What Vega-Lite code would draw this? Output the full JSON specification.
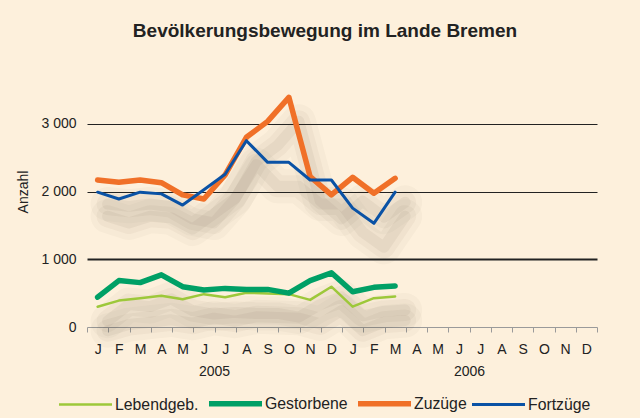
{
  "$schema": "https://vega.github.io/schema/vega-lite/v6.json",
  "width": 510,
  "height": 271,
  "autosize": {"type": "none"},
  "padding": {"left": 87, "top": 56, "right": 43, "bottom": 91},
  "background": "#FDF0DC",
  "title": {
    "text": "Bevölkerungsbewegung im Lande Bremen",
    "fontSize": 19,
    "fontWeight": "bold",
    "font": "Liberation Sans",
    "color": "#222222",
    "anchor": "middle",
    "frame": "group",
    "baseline": "alphabetic",
    "dx": -17,
    "offset": 0
  },
  "config": {
    "view": {"stroke": null},
    "font": "Liberation Sans",
    "axis": {"labelFont": "Liberation Sans", "titleFont": "Liberation Sans", "labelColor": "#222222", "titleColor": "#222222", "labelFontSize": 14, "titleFontSize": 14, "titleFontWeight": "normal"},
    "legend": {"labelFont": "Liberation Sans", "labelFontSize": 15.8, "labelColor": "#222222", "padding": 0}
  },
  "datasets": {
    "bev": [
      {"m": "2005-01", "s": "Lebendgeb.", "v": 300},
      {"m": "2005-02", "s": "Lebendgeb.", "v": 390},
      {"m": "2005-03", "s": "Lebendgeb.", "v": 425},
      {"m": "2005-04", "s": "Lebendgeb.", "v": 460},
      {"m": "2005-05", "s": "Lebendgeb.", "v": 410},
      {"m": "2005-06", "s": "Lebendgeb.", "v": 485},
      {"m": "2005-07", "s": "Lebendgeb.", "v": 440},
      {"m": "2005-08", "s": "Lebendgeb.", "v": 505},
      {"m": "2005-09", "s": "Lebendgeb.", "v": 495},
      {"m": "2005-10", "s": "Lebendgeb.", "v": 485},
      {"m": "2005-11", "s": "Lebendgeb.", "v": 400},
      {"m": "2005-12", "s": "Lebendgeb.", "v": 595},
      {"m": "2006-01", "s": "Lebendgeb.", "v": 300},
      {"m": "2006-02", "s": "Lebendgeb.", "v": 425},
      {"m": "2006-03", "s": "Lebendgeb.", "v": 450},
      {"m": "2005-01", "s": "Gestorbene", "v": 440},
      {"m": "2005-02", "s": "Gestorbene", "v": 685},
      {"m": "2005-03", "s": "Gestorbene", "v": 655},
      {"m": "2005-04", "s": "Gestorbene", "v": 770},
      {"m": "2005-05", "s": "Gestorbene", "v": 595},
      {"m": "2005-06", "s": "Gestorbene", "v": 545},
      {"m": "2005-07", "s": "Gestorbene", "v": 570},
      {"m": "2005-08", "s": "Gestorbene", "v": 555},
      {"m": "2005-09", "s": "Gestorbene", "v": 555},
      {"m": "2005-10", "s": "Gestorbene", "v": 500},
      {"m": "2005-11", "s": "Gestorbene", "v": 685},
      {"m": "2005-12", "s": "Gestorbene", "v": 800},
      {"m": "2006-01", "s": "Gestorbene", "v": 520},
      {"m": "2006-02", "s": "Gestorbene", "v": 585},
      {"m": "2006-03", "s": "Gestorbene", "v": 605},
      {"m": "2005-01", "s": "Zuzüge", "v": 2170},
      {"m": "2005-02", "s": "Zuzüge", "v": 2135},
      {"m": "2005-03", "s": "Zuzüge", "v": 2170},
      {"m": "2005-04", "s": "Zuzüge", "v": 2130},
      {"m": "2005-05", "s": "Zuzüge", "v": 1950},
      {"m": "2005-06", "s": "Zuzüge", "v": 1890},
      {"m": "2005-07", "s": "Zuzüge", "v": 2245},
      {"m": "2005-08", "s": "Zuzüge", "v": 2800},
      {"m": "2005-09", "s": "Zuzüge", "v": 3035},
      {"m": "2005-10", "s": "Zuzüge", "v": 3390},
      {"m": "2005-11", "s": "Zuzüge", "v": 2220},
      {"m": "2005-12", "s": "Zuzüge", "v": 1950},
      {"m": "2006-01", "s": "Zuzüge", "v": 2210},
      {"m": "2006-02", "s": "Zuzüge", "v": 1975},
      {"m": "2006-03", "s": "Zuzüge", "v": 2195},
      {"m": "2005-01", "s": "Fortzüge", "v": 1990},
      {"m": "2005-02", "s": "Fortzüge", "v": 1890},
      {"m": "2005-03", "s": "Fortzüge", "v": 1990},
      {"m": "2005-04", "s": "Fortzüge", "v": 1965},
      {"m": "2005-05", "s": "Fortzüge", "v": 1800},
      {"m": "2005-06", "s": "Fortzüge", "v": 2025},
      {"m": "2005-07", "s": "Fortzüge", "v": 2255},
      {"m": "2005-08", "s": "Fortzüge", "v": 2750},
      {"m": "2005-09", "s": "Fortzüge", "v": 2430},
      {"m": "2005-10", "s": "Fortzüge", "v": 2430},
      {"m": "2005-11", "s": "Fortzüge", "v": 2170},
      {"m": "2005-12", "s": "Fortzüge", "v": 2170},
      {"m": "2006-01", "s": "Fortzüge", "v": 1755},
      {"m": "2006-02", "s": "Fortzüge", "v": 1530},
      {"m": "2006-03", "s": "Fortzüge", "v": 1990}
    ],
    "years": [{"year": "2005"}, {"year": "2006"}]
  },
  "layer": [
    {
      "data": {"name": "bev"},
      "encoding": {
        "x": {
          "field": "m",
          "type": "ordinal",
          "bandPosition": 0.5,
          "scale": {
            "type": "band",
            "paddingInner": 0,
            "paddingOuter": 0,
            "domain": ["2005-01","2005-02","2005-03","2005-04","2005-05","2005-06","2005-07","2005-08","2005-09","2005-10","2005-11","2005-12","2006-01","2006-02","2006-03","2006-04","2006-05","2006-06","2006-07","2006-08","2006-09","2006-10","2006-11","2006-12"]
          },
          "axis": {
            "title": null,
            "orient": "bottom",
            "tickBand": "extent",
            "labelAngle": 0,
            "domainColor": "#9a9a9a",
            "tickColor": "#9a9a9a",
            "tickSize": 5,
            "labelPadding": 10,
            "grid": false,
            "labelExpr": "['J','F','M','A','M','J','J','A','S','O','N','D'][toNumber(substring(datum.value,5,7))-1]"
          }
        },
        "y": {
          "field": "v",
          "type": "quantitative",
          "scale": {"domain": [0, 4000], "nice": false},
          "axis": {
            "title": "Anzahl",
            "values": [0, 1000, 2000, 3000],
            "format": ",d",
            "labelExpr": "replace(datum.label, ',', ' ')",
            "domain": false,
            "ticks": false,
            "labelPadding": 11,
            "titlePadding": 10,
            "grid": true,
            "gridColor": {"condition": {"test": "datum.value === 0", "value": "transparent"}, "value": "#222222"},
            "gridWidth": {"condition": {"test": "datum.value === 1000", "value": 2.2}, "value": 1}
          }
        }
      },
      "layer": [
        {
          "mark": {"type": "line", "color": "#5a4a30", "opacity": 0.035, "strokeWidth": 34, "strokeCap": "round", "strokeJoin": "round", "xOffset": 10, "yOffset": 24},
          "encoding": {"detail": {"field": "s", "type": "nominal"}}
        },
        {
          "mark": {"type": "line", "color": "#5a4a30", "opacity": 0.045, "strokeWidth": 22, "strokeCap": "round", "strokeJoin": "round", "xOffset": 10, "yOffset": 24},
          "encoding": {"detail": {"field": "s", "type": "nominal"}}
        },
        {
          "mark": {"type": "line", "color": "#5a4a30", "opacity": 0.06, "strokeWidth": 11, "strokeCap": "round", "strokeJoin": "round", "xOffset": 10, "yOffset": 24},
          "encoding": {"detail": {"field": "s", "type": "nominal"}}
        },
        {
          "mark": {"type": "line", "strokeCap": "round", "strokeJoin": "round"},
          "encoding": {
            "color": {
              "field": "s",
              "type": "nominal",
              "scale": {"domain": ["Lebendgeb.", "Gestorbene", "Zuzüge", "Fortzüge"], "range": ["#9DC83A", "#00A066", "#F07028", "#0A52A5"]},
              "legend": {"title": null, "orient": "none", "legendX": -31, "legendY": 318, "direction": "horizontal", "columns": 4, "symbolType": "stroke", "symbolSize": 2809, "labelOffset": 0, "columnPadding": -1}
            },
            "strokeWidth": {
              "field": "s",
              "type": "nominal",
              "scale": {"type": "ordinal", "domain": ["Lebendgeb.", "Gestorbene", "Zuzüge", "Fortzüge"], "range": [2.5, 5.5, 5.5, 3]},
              "legend": {"title": null, "orient": "none", "legendX": -31, "legendY": 318, "direction": "horizontal", "columns": 4, "symbolType": "stroke", "symbolSize": 2809, "labelOffset": 0, "columnPadding": -1}
            }
          }
        }
      ]
    },
    {
      "data": {"name": "years"},
      "mark": {"type": "rule", "opacity": 0},
      "encoding": {
        "x": {
          "field": "year",
          "type": "ordinal",
          "scale": {"type": "band", "domain": ["2005", "2006"], "paddingInner": 0, "paddingOuter": 0},
          "axis": {"title": null, "orient": "bottom", "labelAngle": 0, "domain": false, "ticks": false, "tickSize": 0, "labelPadding": 37, "grid": false}
        }
      }
    }
  ],
  "resolve": {"scale": {"x": "independent"}}
}
